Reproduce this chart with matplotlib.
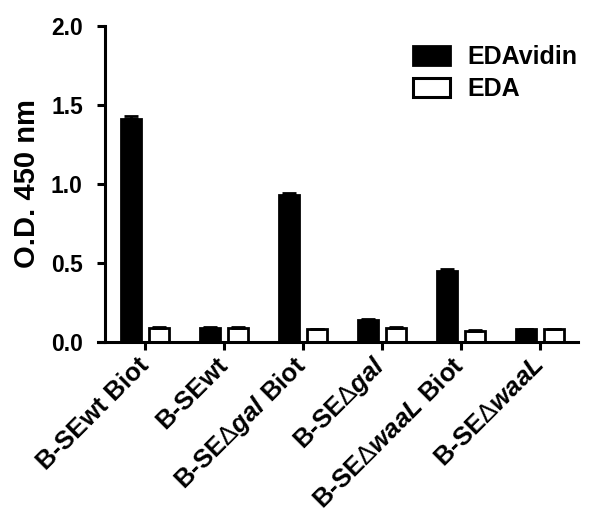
import numpy as np
import matplotlib
matplotlib.use('Agg')
import matplotlib.pyplot as plt
from matplotlib.patches import Patch

plt.rcParams['font.family'] = ['Liberation Sans', 'DejaVu Sans']
plt.rcParams['font.weight'] = 'bold'
plt.rcParams['mathtext.fontset'] = 'custom'
plt.rcParams['mathtext.rm'] = 'Liberation Sans:regular'  # thin delta like the original
plt.rcParams['mathtext.it'] = 'Liberation Sans:italic:bold'
plt.rcParams['mathtext.bf'] = 'Liberation Sans:bold'

# data
groups = ['B-SEwt Biot', 'B-SEwt', r'B-SE$\Delta\mathit{gal}$ Biot', r'B-SE$\Delta\mathit{gal}$',
          r'B-SE$\Delta\mathit{waaL}$ Biot', r'B-SE$\Delta\mathit{waaL}$']
edavidin = [1.41, 0.09, 0.93, 0.14, 0.45, 0.08]
edavidin_err = [0.02, 0.005, 0.015, 0.005, 0.01, 0.005]
eda = [0.09, 0.09, 0.08, 0.09, 0.07, 0.08]
eda_err = [0.005, 0.005, 0.005, 0.005, 0.005, 0.005]

fig = plt.figure(figsize=(6, 5.21), dpi=100)
ax = fig.add_axes([98/600, 1 - 342/521, 480/600, 316/521])

x = np.arange(len(groups))
w = 0.26
ax.bar(x - 0.18, edavidin, w, color='black', edgecolor='black', linewidth=2,
       yerr=[np.zeros(6), edavidin_err], capsize=5, error_kw=dict(elinewidth=2, capthick=2))
ax.bar(x + 0.18, eda, w, color='white', edgecolor='black', linewidth=2,
       yerr=[np.zeros(6), eda_err], capsize=5, error_kw=dict(elinewidth=2, capthick=2))

ax.set_xlim((98 - 145) / 79, (578 - 145) / 79)
ax.set_ylim(0, 2.0)
ax.set_yticks([0, 0.5, 1.0, 1.5, 2.0])
ax.set_yticklabels(['0.0', '0.5', '1.0', '1.5', '2.0'])
ax.set_xticks(x)
ax.set_xticklabels(groups, rotation=45, ha='right', va='center', rotation_mode='anchor', fontsize=18.5)
ax.set_ylabel('O.D. 450 nm', fontsize=21, fontweight='bold', labelpad=7)

for s in ['top', 'right']:
    ax.spines[s].set_visible(False)
ax.spines['left'].set_position(('data', (105 - 145) / 79))
ax.spines['left'].set_linewidth(2.2)
ax.spines['bottom'].set_linewidth(2.2)
ax.tick_params(axis='both', width=2.2, length=6)
ax.tick_params(axis='y', labelsize=16.5, pad=10)
ax.tick_params(axis='x', pad=8)

handles = [Patch(facecolor='black', edgecolor='black', linewidth=2),
           Patch(facecolor='white', edgecolor='black', linewidth=2.2)]
fig.legend(handles, ['EDAvidin', 'EDA'], loc='upper left', bbox_to_anchor=(405/600, 1 - 38/521),
           frameon=False, fontsize=18, handlelength=1.5, handleheight=0.8,
           handletextpad=0.7, labelspacing=0.3, borderaxespad=0, borderpad=0.3)

fig.savefig('out.png', dpi=100)
